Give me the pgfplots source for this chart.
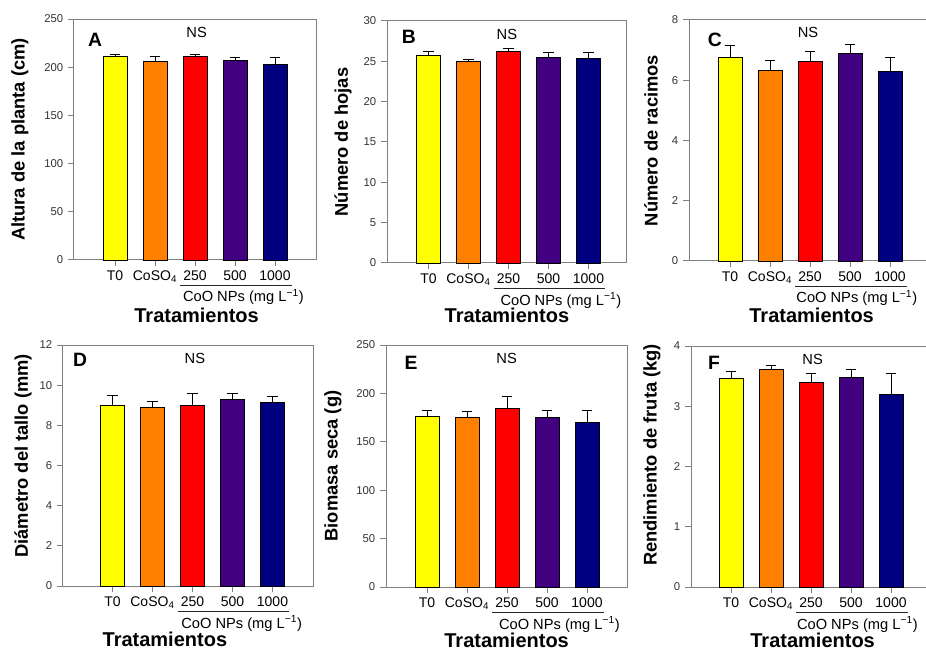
\documentclass[border=0pt]{standalone}
\usepackage{fontspec}
\setmainfont{Liberation Sans}
\usepackage{pgfplots}
\pgfplotsset{compat=1.18}
\definecolor{cY}{RGB}{255,255,0}
\definecolor{cO}{RGB}{255,128,0}
\definecolor{cR}{RGB}{255,0,0}
\definecolor{cP}{RGB}{64,0,128}
\definecolor{cN}{RGB}{0,0,128}
\definecolor{axgray}{RGB}{128,128,128}

\pgfplotsset{
 panel/.style={
   scale only axis, anchor=south west,
   axis line style={axgray, line width=0.75pt},
   tick style={axgray, line width=0.75pt},
   tick align=outside, major tick length=4.5pt,
   tick pos=left,
   xtick={1,2,3,4,5},
   xticklabels={T0, CoSO\textsubscript{4}, 250, 500, 1000},
   xticklabel style={font=\fontsize{10.5}{12}\selectfont, text=black},
   yticklabel style={font=\fontsize{8.5}{10}\selectfont, text=black!80},
   /pgf/number format/assume math mode=true,
   ymin=0, clip=false,
   every axis y label/.style={rotate=90, anchor=center, font=\bfseries\fontsize{13.75}{15}\selectfont},
 },
 cbar/.style={ybar, bar width=0.6, bar shift=0pt, draw=black, line width=0.5pt,
   error bars/y dir=plus, error bars/y explicit,
   error bars/error bar style={black, line width=0.75pt},
   error bars/error mark options={black, rotate=90, mark size=4pt, line width=0.75pt}},
}

% #1 letter, #2 dx, #3 dy, #4 NS x, #5 ymax, #6 Trat x, #7 CoO x, #8 Trat dy
\newcommand{\decor}[8]{%
 \node[anchor=base west, font=\bfseries\fontsize{14.5}{15}\selectfont] at ([xshift=#2,yshift=-#3]rel axis cs:0,1) {#1};
 \node[anchor=base, font=\fontsize{11}{12}\selectfont] at ([yshift=-13.5pt]axis cs:#4,#5) {NS};
 \draw[black!85, line width=0.6pt] ([yshift=-18.75pt]axis cs:2.63,0) -- ([yshift=-18.75pt]axis cs:5.42,0);
 \node[anchor=base, font=\fontsize{11}{12}\selectfont] at ([yshift=-31.5pt]axis cs:#7,0) {CoO NPs (mg L\textsuperscript{−1})};
 \node[anchor=base, font=\bfseries\fontsize{15}{16}\selectfont] at ([yshift=-#8]axis cs:#6,0) {Tratamientos};
}

\begin{document}
\begin{tikzpicture}
\useasboundingbox (0,0) rectangle (694.5pt,488.25pt);

% A
\begin{axis}[panel, at={(55.5pt,293.25pt)}, width=181.5pt, height=180.75pt,
  xmin=-0.025, xmax=6.025, ymax=250, ytick={0,50,...,250},
  ylabel={Altura de la planta (cm)},
  ylabel style={at={([xshift=-40.5pt]axis description cs:0,0.5)}}]
\addplot[cbar, fill=cY] coordinates {(1,211.0) +- (0,2.5)};
\addplot[cbar, fill=cO] coordinates {(2,205.7) +- (0,5.0)};
\addplot[cbar, fill=cR] coordinates {(3,211.0) +- (0,2.5)};
\addplot[cbar, fill=cP] coordinates {(4,207.5) +- (0,3.0)};
\addplot[cbar, fill=cN] coordinates {(5,203.3) +- (0,6.5)};
\decor{A}{7pt}{20.25pt}{3.04}{250}{3.04}{4.21}{47pt}
\end{axis}

% B
\begin{axis}[panel, at={(290.25pt,291pt)}, width=180pt, height=181.5pt,
  xmin=-0.0375, xmax=5.9625, ymax=30, ytick={0,5,...,30},
  ylabel={Número de hojas},
  ylabel style={at={([xshift=-33pt]axis description cs:0,0.5)}}]
\addplot[cbar, fill=cY] coordinates {(1,25.70) +- (0,0.50)};
\addplot[cbar, fill=cO] coordinates {(2,25.00) +- (0,0.20)};
\addplot[cbar, fill=cR] coordinates {(3,26.30) +- (0,0.30)};
\addplot[cbar, fill=cP] coordinates {(4,25.50) +- (0,0.60)};
\addplot[cbar, fill=cN] coordinates {(5,25.35) +- (0,0.75)};
\decor{B}{7.7pt}{17pt}{2.96}{30}{2.96}{4.31}{44.5pt}
\end{axis}

% C
\begin{axis}[panel, at={(516.75pt,292.5pt)}, width=183.75pt, height=180.75pt,
  xmin=-0.025, xmax=6.1, ymax=8, ytick={0,2,...,8},
  ylabel={Número de racimos},
  ylabel style={at={([xshift=-28.5pt]axis description cs:0,0.5)}}]
\addplot[cbar, fill=cY] coordinates {(1,6.76) +- (0,0.39)};
\addplot[cbar, fill=cO] coordinates {(2,6.32) +- (0,0.34)};
\addplot[cbar, fill=cR] coordinates {(3,6.64) +- (0,0.33)};
\addplot[cbar, fill=cP] coordinates {(4,6.88) +- (0,0.30)};
\addplot[cbar, fill=cN] coordinates {(5,6.29) +- (0,0.47)};
\decor{C}{10.7pt}{20pt}{2.95}{8}{3.04}{4.17}{46.5pt}
\end{axis}

% D
\begin{axis}[panel, at={(47.25pt,48.75pt)}, width=187.5pt, height=180.75pt,
  xmin=-0.2375, xmax=6.0125, ymax=12, ytick={0,2,...,12},
  ylabel={Diámetro del tallo (mm)},
  ylabel style={at={([xshift=-30pt]axis description cs:0,0.54)}}]
\addplot[cbar, fill=cY] coordinates {(1,9.00) +- (0,0.50)};
\addplot[cbar, fill=cO] coordinates {(2,8.90) +- (0,0.30)};
\addplot[cbar, fill=cR] coordinates {(3,9.02) +- (0,0.58)};
\addplot[cbar, fill=cP] coordinates {(4,9.29) +- (0,0.31)};
\addplot[cbar, fill=cN] coordinates {(5,9.17) +- (0,0.27)};
\decor{D}{4pt}{16.25pt}{3.06}{12}{2.31}{4.23}{45.5pt}
\end{axis}

% E
\begin{axis}[panel, at={(289.5pt,48pt)}, width=180.75pt, height=181.5pt,
  xmin=-0.025, xmax=6.0, ymax=250, ytick={0,50,...,250},
  ylabel={Biomasa seca (g)},
  ylabel style={at={([xshift=-39.75pt]axis description cs:0,0.5)}}]
\addplot[cbar, fill=cY] coordinates {(1,176.2) +- (0,6.6)};
\addplot[cbar, fill=cO] coordinates {(2,174.8) +- (0,6.9)};
\addplot[cbar, fill=cR] coordinates {(3,184.1) +- (0,13.0)};
\addplot[cbar, fill=cP] coordinates {(4,175.5) +- (0,7.3)};
\addplot[cbar, fill=cN] coordinates {(5,170.0) +- (0,12.8)};
\decor{E}{10.5pt}{18.25pt}{2.99}{250}{2.99}{4.31}{45pt}
\end{axis}

% F
\begin{axis}[panel, at={(518.25pt,48pt)}, width=182.25pt, height=180.75pt,
  xmin=0, xmax=6.075, ymax=4, ytick={0,1,...,4},
  ylabel={Rendimiento de fruta (kg)},
  ylabel style={at={([xshift=-29.25pt]axis description cs:0,0.548)}}]
\addplot[cbar, fill=cY] coordinates {(1,3.47) +- (0,0.10)};
\addplot[cbar, fill=cO] coordinates {(2,3.61) +- (0,0.06)};
\addplot[cbar, fill=cR] coordinates {(3,3.39) +- (0,0.15)};
\addplot[cbar, fill=cP] coordinates {(4,3.48) +- (0,0.13)};
\addplot[cbar, fill=cN] coordinates {(5,3.19) +- (0,0.35)};
\decor{F}{9.25pt}{17.5pt}{3.04}{4}{3.04}{4.16}{45pt}
\end{axis}
\end{tikzpicture}
\end{document}
